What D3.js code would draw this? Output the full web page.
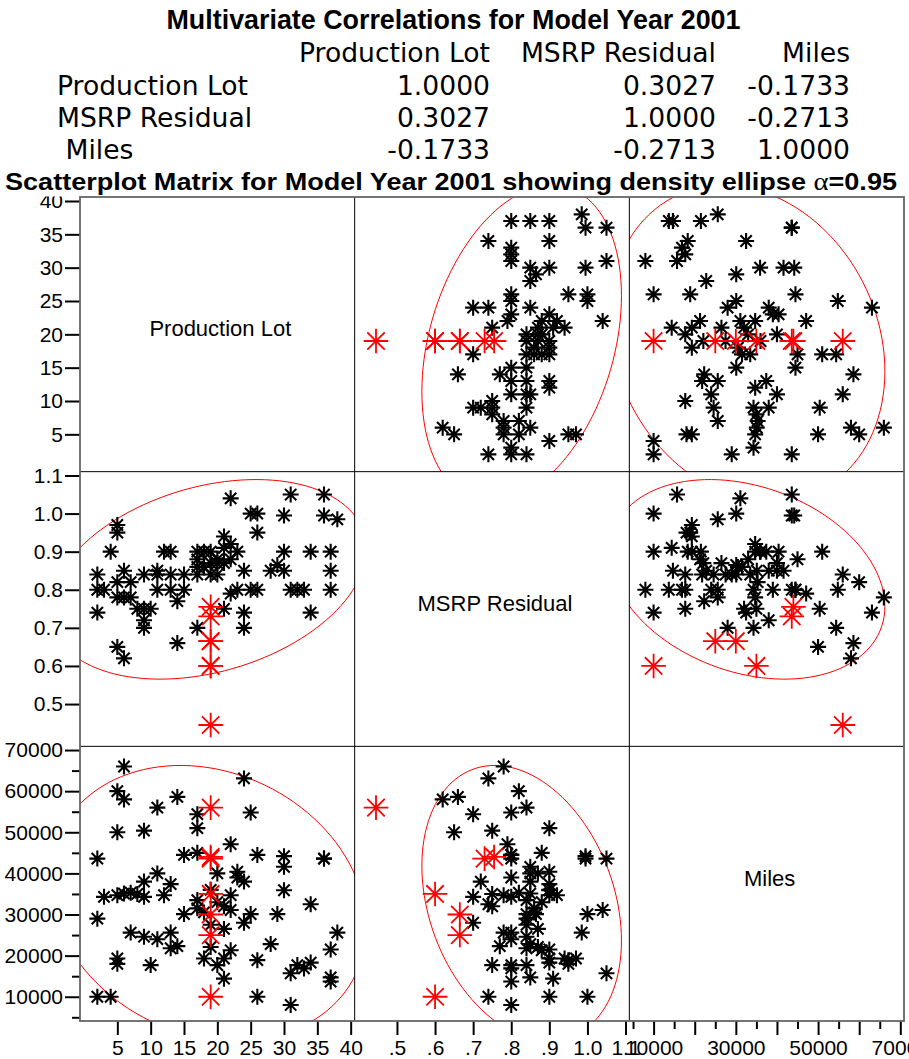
<!DOCTYPE html>
<html>
<head>
<meta charset="utf-8">
<script src="https://cdn.jsdelivr.net/npm/d3@7"></script>
<style>
  body { margin: 0; background: #fff; }
  svg { display: block; }
</style>
</head>
<body>
<svg id="chart" width="909" height="1059"></svg>
<script>
// ---- Data: one row per vehicle, model year 2001 ----
const productionLot = [
  2, 2, 2, 3, 4,
  5, 5, 5, 5, 5,
  6, 6, 6, 7, 7, 8,
  9, 9, 9, 9, 10,
  11, 11, 11, 12, 13, 13, 13,
  14, 14, 15, 15,
  17, 17, 17, 17, 17, 18, 18, 19, 19, 19, 20, 20, 20,
  21, 21, 21, 21, 22, 22, 22, 22, 23, 23,
  24, 24, 24, 25, 25, 26, 26, 26, 28, 29,
  30, 30, 30, 31, 31, 32, 33, 34, 34, 36, 36,
  37, 37, 37, 38,
  19, 19, 19, 19, 19, 19, 19
];
const msrpResidual = [
  0.74, 0.84, 0.80, 0.80, 0.90,
  0.97, 0.95, 0.82, 0.65, 0.78,
  0.78, 0.62, 0.85, 0.78, 0.82, 0.75,
  0.75, 0.72, 0.70, 0.84, 0.75,
  0.84, 0.85, 0.80, 0.90, 0.80, 0.84, 0.90,
  0.66, 0.77, 0.80, 0.84,
  0.70, 0.90, 0.88, 0.84, 0.86, 0.90, 0.86, 0.87, 0.84, 0.90, 0.87, 0.84, 0.88,
  0.94, 0.91, 0.75, 0.87, 1.04, 0.92, 0.88, 0.79, 0.90, 0.80,
  0.74, 0.70, 0.85, 0.80, 1.00, 1.00, 0.95, 0.80, 0.85, 0.865,
  0.995, 0.85, 0.90, 0.80, 1.05, 0.80, 0.80, 0.74, 0.90, 1.05, 0.995,
  0.80, 0.85, 0.90, 0.985,
  0.60, 0.665, 0.665, 0.60, 0.755, 0.73, 0.445
];
const miles = [
  10000, 29000, 43600, 34300, 10000,
  19300, 18000, 60000, 50000, 34700,
  66000, 58000, 35100, 25600, 35300, 35000,
  50400, 38000, 34300, 24600, 17700,
  56000, 40000, 24000, 34700, 25600, 21800, 37400,
  58600, 22300, 44500, 30100,
  54400, 51000, 45000, 33500, 31500, 19300, 30500, 22100, 27500, 36000, 40000, 17700, 33000,
  19300, 14400, 32000, 26500, 31100, 34700, 21300, 47100, 40400, 39000,
  63100, 28000, 38000, 54800, 30100, 10000, 18900, 44500, 22800, 30100,
  44200, 41600, 35900, 8000, 15700, 17700, 16900, 32500, 18300, 43600, 43600,
  13700, 14700, 21500, 25600,
  10000, 25000, 30000, 35000, 44000, 43600, 56000
];
// 1 = highlighted rows (drawn as large red markers)
const highlighted = productionLot.map((_, k) => (k >= productionLot.length - 7 ? 1 : 0));

const variableNames = ["Production Lot", "MSRP Residual", "Miles"];
const correlations = [
  [1.0000, 0.3027, -0.1733],
  [0.3027, 1.0000, -0.2713],
  [-0.1733, -0.2713, 1.0000]
];
const rowLabels = ["Production Lot", "MSRP Residual", " Miles"];

const yTickValues = [
  [5, 10, 15, 20, 25, 30, 35, 40],
  [0.5, 0.6, 0.7, 0.8, 0.9, 1.0, 1.1],
  [10000, 20000, 30000, 40000, 50000, 60000, 70000]
];
const yMinorTicks = [[], [], [5000, 15000, 25000, 35000, 45000, 55000, 65000]];
const xTickValues = [
  [5, 10, 15, 20, 25, 30, 35, 40],
  [0.5, 0.6, 0.7, 0.8, 0.9, 1.0, 1.1],
  [10000, 20000, 30000, 40000, 50000, 60000, 70000]
];
const xTickLabels = [
  ["5", "10", "15", "20", "25", "30", "35", "40"],
  [".5", ".6", ".7", ".8", ".9", "1.0", "1.1"],
  ["10000", "", "30000", "", "50000", "", "70000"]
];
const xMinorTicks = [[], [], [5000, 15000, 25000, 35000, 45000, 55000, 65000]];

// ---- Layout ----
const svg = d3.select("#chart");
const gridLeft = 80, gridTop = 197, size = 274.67;
const domains = [[-0.6, 40.6], [0.389, 1.11], [4100, 70900]];
const xScales = domains.map((d, j) =>
  d3.scaleLinear().domain(d).range([gridLeft + j * size, gridLeft + (j + 1) * size]));
const yScales = domains.map((d, i) =>
  d3.scaleLinear().domain(d).range([gridTop + (i + 1) * size, gridTop + i * size]));

const columns = [productionLot, msrpResidual, miles];
const rows = productionLot.map((_, k) => ({
  v: [productionLot[k], msrpResidual[k], miles[k]],
  hl: highlighted[k]
}));
const ordered = rows.filter(r => !r.hl).concat(rows.filter(r => r.hl));

const sansFont = "'Liberation Sans', Arial, Helvetica, sans-serif";
const chi2_95 = 5.991; // chi-square quantile, 2 df, alpha 0.95

function starPath(r) {
  const d = r * Math.SQRT1_2;
  return `M${-r},0H${r}M0,${-r}V${r}M${-d},${-d}L${d},${d}M${-d},${d}L${d},${-d}`;
}

const defs = svg.append("defs");

for (let i = 0; i < 3; i++) {
  for (let j = 0; j < 3; j++) {
    const x0 = gridLeft + j * size, y0 = gridTop + i * size;
    const g = svg.append("g");
    if (i === j) {
      g.append("text")
        .attr("x", x0 + size / 2 + 3)
        .attr("y", y0 + size / 2 + 2)
        .attr("text-anchor", "middle")
        .attr("font-family", sansFont)
        .attr("font-size", 22)
        .attr("fill", "#000")
        .text(variableNames[i]);
      continue;
    }
    const clipId = `clip-${i}-${j}`;
    defs.append("clipPath").attr("id", clipId)
      .append("rect").attr("x", x0).attr("y", y0).attr("width", size).attr("height", size);
    const body = g.append("g").attr("clip-path", `url(#${clipId})`);
    const xs = xScales[j], ys = yScales[i];

    // density ellipse from means, standard deviations and the correlation
    const mx = d3.mean(columns[j]), my = d3.mean(columns[i]);
    const sx = d3.deviation(columns[j]), sy = d3.deviation(columns[i]);
    const r = correlations[i][j];
    const c = Math.sqrt(chi2_95);
    const pts = d3.range(0, 361, 3).map(a => {
      const t = a * Math.PI / 180;
      return [
        mx + c * sx * Math.cos(t),
        my + c * sy * (r * Math.cos(t) + Math.sqrt(1 - r * r) * Math.sin(t))
      ];
    });
    body.append("path")
      .attr("d", d3.line().x(p => xs(p[0])).y(p => ys(p[1]))(pts))
      .attr("fill", "none")
      .attr("stroke", "#ff0000")
      .attr("stroke-width", 1);

    body.selectAll("path.pt")
      .data(ordered)
      .join("path")
      .attr("class", "pt")
      .attr("transform", d => `translate(${xs(d.v[j])},${ys(d.v[i])})`)
      .attr("d", d => starPath(d.hl ? 12.3 : 8))
      .attr("fill", "none")
      .attr("stroke", d => d.hl ? "#ff0000" : "#000")
      .attr("stroke-width", d => d.hl ? 1.8 : 2.1);
  }
}

// ---- Axes ----
function styleAxis(sel) {
  sel.select(".domain").remove();
  sel.selectAll(".tick line").attr("stroke", "#000").attr("stroke-width", 2);
  sel.selectAll(".tick text")
    .attr("fill", "#000")
    .attr("font-family", sansFont)
    .attr("font-size", 21);
  sel.attr("font-family", sansFont).attr("font-size", 21);
}

const yFormats = [d3.format("d"), v => v.toFixed(1), d3.format("d")];
for (let i = 0; i < 3; i++) {
  svg.append("g")
    .attr("transform", `translate(${gridLeft},0)`)
    .call(d3.axisLeft(yScales[i]).tickValues(yTickValues[i])
      .tickSize(15).tickPadding(2).tickFormat(yFormats[i]))
    .call(styleAxis);
  if (yMinorTicks[i].length) {
    svg.append("g")
      .attr("transform", `translate(${gridLeft},0)`)
      .call(d3.axisLeft(yScales[i]).tickValues(yMinorTicks[i])
        .tickSize(8).tickFormat(() => ""))
      .call(styleAxis);
  }
}
const gridBottom = gridTop + 3 * size;
for (let j = 0; j < 3; j++) {
  svg.append("g")
    .attr("transform", `translate(0,${gridBottom})`)
    .call(d3.axisBottom(xScales[j]).tickValues(xTickValues[j])
      .tickSize(14).tickPadding(5)
      .tickFormat((v, k) => xTickLabels[j][k]))
    .call(styleAxis);
  if (xMinorTicks[j].length) {
    svg.append("g")
      .attr("transform", `translate(0,${gridBottom})`)
      .call(d3.axisBottom(xScales[j]).tickValues(xMinorTicks[j])
        .tickSize(8).tickFormat(() => ""))
      .call(styleAxis);
  }
}

// ---- Titles and correlation table ----
svg.append("rect").attr("x", 0).attr("y", 160).attr("width", 909).attr("height", 36.5)
  .attr("fill", "#fff");

svg.append("text")
  .attr("x", 166.5).attr("y", 28.5)
  .attr("font-family", sansFont).attr("font-weight", "bold").attr("font-size", 27.5)
  .attr("textLength", 574).attr("lengthAdjust", "spacingAndGlyphs")
  .text("Multivariate Correlations for Model Year 2001");

const t2 = svg.append("text")
  .attr("x", 5).attr("y", 190)
  .attr("font-family", sansFont).attr("font-weight", "bold").attr("font-size", 24.5)
  .attr("textLength", 892).attr("lengthAdjust", "spacingAndGlyphs");
t2.append("tspan").text("Scatterplot Matrix for Model Year 2001 showing density ellipse ");
t2.append("tspan").attr("font-family", "'Liberation Serif', 'DejaVu Serif', serif")
  .attr("font-weight", "normal").attr("font-size", 26).text("\u03B1");
t2.append("tspan").text("=0.95");

const tableFont = "'DejaVu Sans', Verdana, sans-serif";
const colRight = [490, 716, 850];
const headerY = 62;
const rowY = [95, 127, 159];
const rowLabelX = [57, 57, 57];

const table = svg.append("g")
  .attr("font-family", tableFont).attr("font-size", 26.6).attr("fill", "#000");
variableNames.forEach((name, j) => {
  table.append("text").attr("x", colRight[j]).attr("y", headerY)
    .attr("text-anchor", "end").text(name);
});
rowLabels.forEach((name, i) => {
  table.append("text").attr("x", rowLabelX[i]).attr("y", rowY[i])
    .style("white-space", "pre").text(name);
  correlations[i].forEach((v, j) => {
    table.append("text").attr("x", colRight[j]).attr("y", rowY[i])
      .attr("text-anchor", "end").text(v.toFixed(4));
  });
});

// ---- Frame ----
const frame = svg.append("g");
for (let k = 1; k < 3; k++) {
  frame.append("line")
    .attr("x1", gridLeft + k * size).attr("x2", gridLeft + k * size)
    .attr("y1", gridTop).attr("y2", gridBottom)
    .attr("stroke", "#000").attr("stroke-width", 1);
  frame.append("line")
    .attr("x1", gridLeft).attr("x2", gridLeft + 3 * size)
    .attr("y1", gridTop + k * size).attr("y2", gridTop + k * size)
    .attr("stroke", "#000").attr("stroke-width", 1);
}
frame.append("rect")
  .attr("x", gridLeft).attr("y", gridTop).attr("width", 3 * size).attr("height", 3 * size)
  .attr("fill", "none").attr("stroke", "#666").attr("stroke-width", 1.8);
</script>
</body>
</html>
